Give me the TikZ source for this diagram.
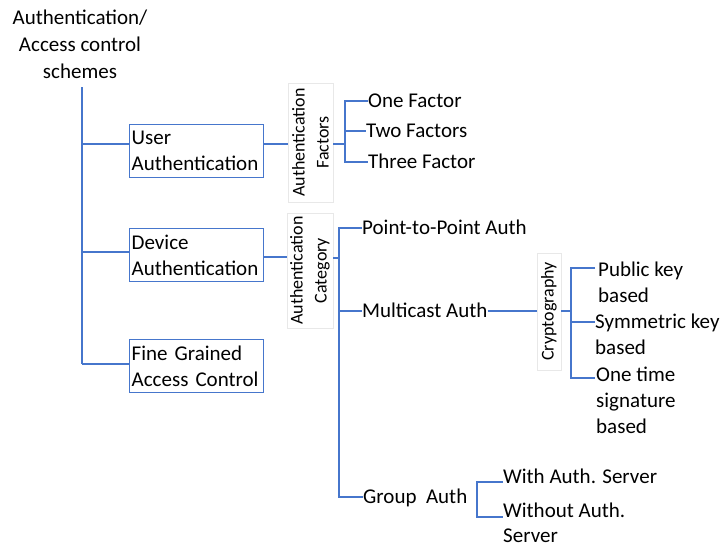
\documentclass[tikz,border=0pt]{standalone}
\usepackage{fontspec}
\setmainfont{Carlito}
\definecolor{lblue}{RGB}{70,118,204}
\definecolor{lgray}{RGB}{232,232,232}
\begin{document}
\begin{tikzpicture}[x=1pt,y=-1pt,
  conn/.style={draw=lblue, line width=1.4pt},
  bigfont/.style={font=\fontsize{21}{26}\selectfont},
  box/.style={bigfont, draw=lblue, line width=1.4pt, minimum width=134pt, minimum height=53pt,
    inner xsep=2pt, inner ysep=0pt, align=left, text width=130pt, anchor=north west},
  lbl/.style={bigfont, inner sep=0pt, anchor=west, text height=15pt, text depth=2pt},
  mlbl/.style={bigfont, inner sep=0pt, align=left, anchor=north west},
  rbox/.style={rotate=90, draw=lgray, line width=0.8pt, align=center, inner sep=1pt,
    font=\fontsize{18}{24}\selectfont},
]
\useasboundingbox (0,0) rectangle (725,549);

% title
\node[bigfont, align=center, font=\fontsize{21}{27}\selectfont, inner sep=0pt] (title) at (80,44)
  {Authentication/\\Access control\\schemes};

% boxes
\node[box] (ub) at (129,124) {User\\Authentication};
\node[box] (db) at (129,228) {Device\\Authentication};
\node[box] (fg) at (129,339) {Fine Grained\\Access Control};

% trunk
\coordinate (t0) at (82,87);
\coordinate (t1) at (82,144);
\coordinate (t2) at (82,252);
\coordinate (t3) at (82,364);
\draw[conn] (t0) -- (t3);
\draw[conn] (t1) -- (t1 -| ub.west);
\draw[conn] (t2) -- (t2 -| db.west);
\draw[conn] (t3) -- (t3 -| fg.west);

% authentication factors
\node[rbox, minimum width=119pt, minimum height=45pt] (fa) at (310.5,142.5)
  {Authentication\\Factors};
\draw[conn] (ub.east |- t1) -- (fa.north |- t1);
\node[lbl] (f1) at (368,101) {One Factor};
\node[lbl] (f2) at (366,131) {Two Factors};
\node[lbl] (f3) at (368,162) {Three Factor};
\coordinate (fb) at (345,144);
\draw[conn] (fa.south |- fb) -- (fb);
\draw[conn] (f1.west) -| (fb) |- (f3.west);
\draw[conn] (fb |- f2.west) -- (f2.west);

% authentication category
\node[rbox, minimum width=115pt, minimum height=46pt] (ca) at (310,270.5)
  {Authentication\\Category};
\draw[conn] (db.east |- 0,257) -- (ca.north |- 0,257);
\node[lbl] (pp) at (362,228) {Point-to-Point Auth};
\node[lbl] (mc) at (362,311) {Multicast Auth};
\node[lbl] (ga) at (363,497) {Group\ \ Auth};
\coordinate (cb) at (339,258);
\draw[conn] (ca.south |- cb) -- (cb);
\draw[conn] (pp.west) -| (cb) |- (ga.west);
\draw[conn] (cb |- mc.west) -- (mc.west);

% cryptography
\node[rbox, minimum width=117pt, minimum height=24pt] (cr) at (549,311.5) {Cryptography};
\draw[conn] (mc.east) -- (cr.north |- mc.east);
\coordinate (crb) at (571,311);
\draw[conn] (cr.south |- crb) -- (crb);
\node[mlbl] (pk) at (598,262) {Public key\\based};
\node[mlbl] (sk) at (595,314) {Symmetric key\\based};
\node[mlbl] (ot) at (596,367) {One time\\signature\\based};
\coordinate (c1) at (595,268);
\coordinate (c2) at (595,322);
\coordinate (c3) at (595,378);
\draw[conn] (c1) -| (crb) |- (c3);
\draw[conn] (crb |- c2) -- (c2);

% group auth
\node[lbl] (wa) at (503,477) {With Auth. Server};
\node[mlbl, font=\fontsize{21}{25}\selectfont] (wo) at (503,503) {Without Auth.\\Server};
\coordinate (g1) at (503,482);
\coordinate (g2) at (503,517);
\coordinate (gb) at (477,500);
\draw[conn] (g1) -| (gb) |- (g2);
\end{tikzpicture}
\end{document}
